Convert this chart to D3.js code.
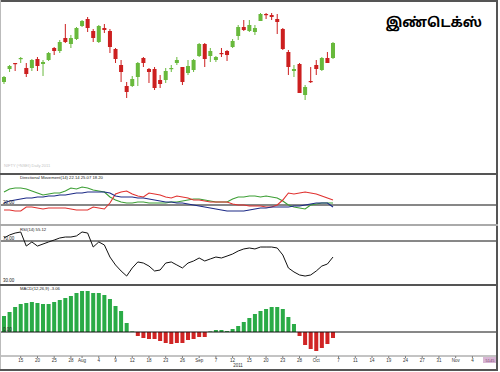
<!DOCTYPE html>
<html>
<head>
<meta charset="utf-8">
<script src="https://cdn.jsdelivr.net/npm/d3@7"></script>
<style>
  body { margin: 0; background: #fff; }
  text { font-family: "Liberation Sans", Arial, sans-serif; }
</style>
</head>
<body>
<svg width="500" height="372"></svg>
<script>
// Candles (index level)
const opens  = [4950,5015,5045,5065,5020,5020,5065,5040,5060,5120,5105,5170,5140,5165,5230,5265,5205,5150,5220,5205,
                5115,5035,4930,4930,4975,5070,5015,5015,4960,4960,5015,5045,5025,4995,5010,5080,5140,5080,5060,5095,
                5105,5125,5180,5225,5205,5200,5255,5290,5285,5265,5215,5100,5005,5040,4885,4955,5035,5010,5070,5070];
const highs  = [4980,5035,5045,5075,5045,5065,5075,5060,5100,5125,5160,5240,5185,5225,5260,5275,5215,5235,5240,5215,
                5120,5060,4950,4980,5050,5075,5020,5025,4985,5020,5035,5075,5025,5060,5065,5145,5145,5120,5080,5120,
                5110,5165,5235,5260,5260,5235,5295,5295,5295,5290,5220,5110,5035,5045,4935,5025,5060,5075,5100,5150];
const lows   = [4940,5000,5005,5045,4975,5005,5005,4980,5055,5085,5095,5145,5120,5160,5225,5200,5150,5145,5195,5095,
                5045,4950,4870,4925,4930,5025,4945,4910,4920,4945,5000,5035,4935,4985,5000,5075,5025,5050,5050,5075,
                5055,5120,5160,5205,5200,5185,5255,5265,5260,5190,5110,4985,4975,4895,4860,4945,4985,5005,5045,5065];
const closes = [4975,5030,5040,5070,4990,5060,5030,5050,5095,5105,5150,5150,5170,5220,5255,5220,5170,5230,5210,5125,
                5065,5000,4900,4965,5045,5045,5000,4920,4940,5005,5020,5060,4950,5030,5060,5140,5065,5105,5075,5090,
                5085,5155,5225,5210,5235,5220,5290,5285,5275,5250,5115,5025,5015,4895,4925,4950,5015,5070,5045,5145];

// Directional movement
const plusDI  = [33,36,37,37,36,34,32,30,31,32,32,34,37,36,38,37,35,34,33,28,25,23,22,22,23,23,22,22,22,22,
                 23,23,24,25,26,26,25,24,23,23,23,26,28,28,29,29,28,29,28,27,24,20,18,17,16,20,21,22,22,22];
const minusDI = [15,15,14,14,18,18,17,16,17,17,17,17,16,15,15,15,18,17,16,22,31,33,34,31,29,28,32,31,30,28,
                 27,29,28,27,25,25,24,23,23,23,23,21,20,20,19,19,19,18,18,20,25,32,31,32,33,32,31,29,27,25];
const adx     = [22,24,25,26,27,27,28,28,29,29,30,30,31,32,32,33,33,33,33,32,29,28,28,28,27,27,26,25,24,23,
                 23,22,22,21,20,19,18,17,16,15,14,14,14,14,15,16,17,17,18,18,18,18,19,19,20,21,22,22,22,18];

// RSI(14)
const rsi = [72.8,75.6,77.4,78.4,65.3,69.1,65.3,67.2,69.1,70.9,72.8,73.7,73.7,74.7,78.4,77.4,64.4,69.1,66.3,55.1,
             47.7,42.1,37.4,44.9,50.5,49.5,46.7,42.1,43.0,49.5,50.5,47.7,44.9,49.5,51.4,54.2,51.4,53.3,55.1,54.2,
             56.0,57.9,60.7,62.6,63.5,62.6,64.4,64.4,64.4,63.5,57.0,44.9,41.2,38.4,37.4,38.4,42.1,46.7,48.6,55.1];

// MACD histogram
const macdHist = [8,10,12.5,14,14.5,15,14.5,14,14,15,16,17,18,19.5,20.5,20.5,19.5,19.5,18.5,16.5,
                  13,10.5,4.5,0.3,-2,-3,-3.5,-3.5,-4.5,-5.5,-6,-5.5,-5.5,-4,-3.5,-2.5,-2.5,0.3,1,1,
                  0.5,1.5,3,5,7,9,10.5,11.5,12.5,12.5,11.5,7.5,4,-2,-6.5,-8.5,-9.5,-8,-6,-3];

// x axis ticks (slot index -> label)
const tickIdx  = [3,6,9,12,14,17,20,23,26,29,32,35,38,41,44,47,50,53,56,60,63,66,69,72,75,78,81,84];
const tickText = ['15','20','25','28','Aug','4','9','12','18','23','26','Sep','7','12','15','20','23','28','Oct',
                  '7','11','14','19','24','27','31','Nov','4'];

const totalSlots = 89;

const svg = d3.select('svg');
const up = '#68b93c', down = '#cc1f1f';

const x = d3.scaleBand()
    .domain(d3.range(totalSlots))
    .range([1.2, 497.5])
    .paddingInner(0.28)
    .paddingOuter(0.14);
const cx = i => x(i) + x.bandwidth() / 2;

// ---- price panel
const yPrice = d3.scaleLinear().domain([4500, 5350]).range([172, 2]);
const candles = opens.map((o, i) => ({ i, o, h: highs[i], l: lows[i], c: closes[i] }));

const cg = svg.append('g');
cg.selectAll('line.wick')
    .data(candles)
    .enter()
    .append('line')
    .attr('class', 'wick')
    .attr('x1', d => cx(d.i)).attr('x2', d => cx(d.i))
    .attr('y1', d => yPrice(d.h)).attr('y2', d => yPrice(d.l))
    .attr('stroke', d => d.c >= d.o ? up : down)
    .attr('stroke-width', 1);
cg.selectAll('rect')
    .data(candles)
    .enter()
    .append('rect')
    .attr('x', d => x(d.i))
    .attr('width', x.bandwidth())
    .attr('y', d => yPrice(Math.max(d.o, d.c)))
    .attr('height', d => Math.max(1.2, Math.abs(yPrice(d.o) - yPrice(d.c))))
    .attr('fill', d => d.c >= d.o ? up : down);

svg.append('text')
    .attr('x', 482).attr('y', 27)
    .attr('text-anchor', 'end')
    .attr('font-size', 13.5).attr('font-weight', 'bold')
    .style('font-family', '"Noto Sans Tamil","Noto Sans","Lohit Tamil",sans-serif')
    .text('இண்டெக்ஸ்');

svg.append('text')
    .attr('x', 4).attr('y', 167)
    .attr('font-size', 4).attr('fill', '#c4c4c4')
    .text('NIFTY (^NSEI) Daily 2011');

// ---- DMI panel
const yDmi = d3.scaleLinear().domain([0, 50]).range([225, 175]);
const dmiLine = d3.line().x((d, i) => cx(i)).y(d => yDmi(d));
svg.append('line')
    .attr('x1', 0).attr('x2', 497).attr('y1', yDmi(20)).attr('y2', yDmi(20))
    .attr('stroke', '#111').attr('stroke-width', 1.2);
[[plusDI, '#3d9f35'], [minusDI, '#e0312f'], [adx, '#1c2a86']].forEach(([s, col]) => {
    svg.append('path')
        .attr('d', dmiLine(s))
        .attr('fill', 'none')
        .attr('stroke', col)
        .attr('stroke-width', 1.1);
});
svg.append('text').attr('x', 3).attr('y', yDmi(20) - 1.5)
    .attr('font-size', 4.5).attr('fill', '#222').text('20.00');
svg.append('text').attr('x', 20).attr('y', 179)
    .attr('font-size', 4.2).attr('fill', '#222')
    .text('Directional Movement(14) 22.14 25.07 18.20');

// ---- RSI panel
const yRsi = d3.scaleLinear().domain([30, 70]).range([284, 241]);
svg.append('line')
    .attr('x1', 0).attr('x2', 497).attr('y1', yRsi(70)).attr('y2', yRsi(70))
    .attr('stroke', '#111').attr('stroke-width', 1);
svg.append('path')
    .attr('d', d3.line().x((d, i) => cx(i)).y(d => yRsi(d))(rsi))
    .attr('fill', 'none')
    .attr('stroke', '#111')
    .attr('stroke-width', 1);
svg.append('text').attr('x', 3).attr('y', yRsi(70) - 1.5)
    .attr('font-size', 4.5).attr('fill', '#222').text('70.00');
svg.append('text').attr('x', 3).attr('y', yRsi(30) - 2)
    .attr('font-size', 4.5).attr('fill', '#222').text('30.00');
svg.append('text').attr('x', 20).attr('y', 231)
    .attr('font-size', 4.2).attr('fill', '#222').text('RSI(14) 55.12');

// ---- MACD panel
const yMacd = d3.scaleLinear().domain([0, 20.5]).range([332, 291]);
svg.selectAll('rect.hist')
    .data(macdHist)
    .enter()
    .append('rect')
    .attr('class', 'hist')
    .attr('x', (d, i) => x(i))
    .attr('width', x.bandwidth())
    .attr('y', d => yMacd(Math.max(0, d)))
    .attr('height', d => Math.abs(yMacd(d) - yMacd(0)))
    .attr('fill', d => d >= 0 ? '#2aab46' : '#d02424');
svg.append('line')
    .attr('x1', 0).attr('x2', 497).attr('y1', yMacd(0)).attr('y2', yMacd(0))
    .attr('stroke', '#111').attr('stroke-width', 1);
svg.append('text').attr('x', 3).attr('y', yMacd(0) - 1.5)
    .attr('font-size', 4.5).attr('fill', '#222').text('0.00');
svg.append('text').attr('x', 20).attr('y', 290)
    .attr('font-size', 4.2).attr('fill', '#222').text('MACD(12,26,9) -3.06');

// ---- x axis
const xAxis = d3.axisBottom(x)
    .tickValues(tickIdx)
    .tickFormat((d, i) => tickText[i])
    .tickSize(2)
    .tickPadding(1);
const xg = svg.append('g')
    .attr('transform', 'translate(0,356)')
    .call(xAxis);
xg.select('.domain').remove();
xg.selectAll('.tick line').attr('stroke', '#777');
xg.selectAll('.tick text').attr('font-size', 4.5).attr('fill', '#333')
    .style('font-family', '"Liberation Sans", Arial, sans-serif');
svg.append('line')
    .attr('x1', 0).attr('x2', 497).attr('y1', 356).attr('y2', 356)
    .attr('stroke', '#888').attr('stroke-width', 1);
svg.append('text').attr('x', 238).attr('y', 367)
    .attr('text-anchor', 'middle').attr('font-size', 4.5).attr('fill', '#333').text('2011');
svg.append('rect').attr('x', 483).attr('y', 357).attr('width', 14).attr('height', 6)
    .attr('fill', '#d8b6d4');
svg.append('text').attr('x', 490).attr('y', 362)
    .attr('text-anchor', 'middle').attr('font-size', 4).attr('fill', '#7a3f72').text('5145');

// ---- frame and panel separators
const frame = svg.append('g');
frame.append('line').attr('x1', 0).attr('x2', 498).attr('y1', 1).attr('y2', 1)
    .attr('stroke', '#555').attr('stroke-width', 2);
frame.append('line').attr('x1', 0.5).attr('x2', 0.5).attr('y1', 0).attr('y2', 371)
    .attr('stroke', '#bbb').attr('stroke-width', 1);
frame.append('line').attr('x1', 497).attr('x2', 497).attr('y1', 0).attr('y2', 371)
    .attr('stroke', '#555').attr('stroke-width', 2);
[[174, '#555'], [225, '#aaa'], [285, '#555'], [370, '#555']].forEach(([yy, col]) => {
    frame.append('line').attr('x1', 0).attr('x2', 498).attr('y1', yy).attr('y2', yy)
        .attr('stroke', col).attr('stroke-width', 2);
});
</script>
</body>
</html>
